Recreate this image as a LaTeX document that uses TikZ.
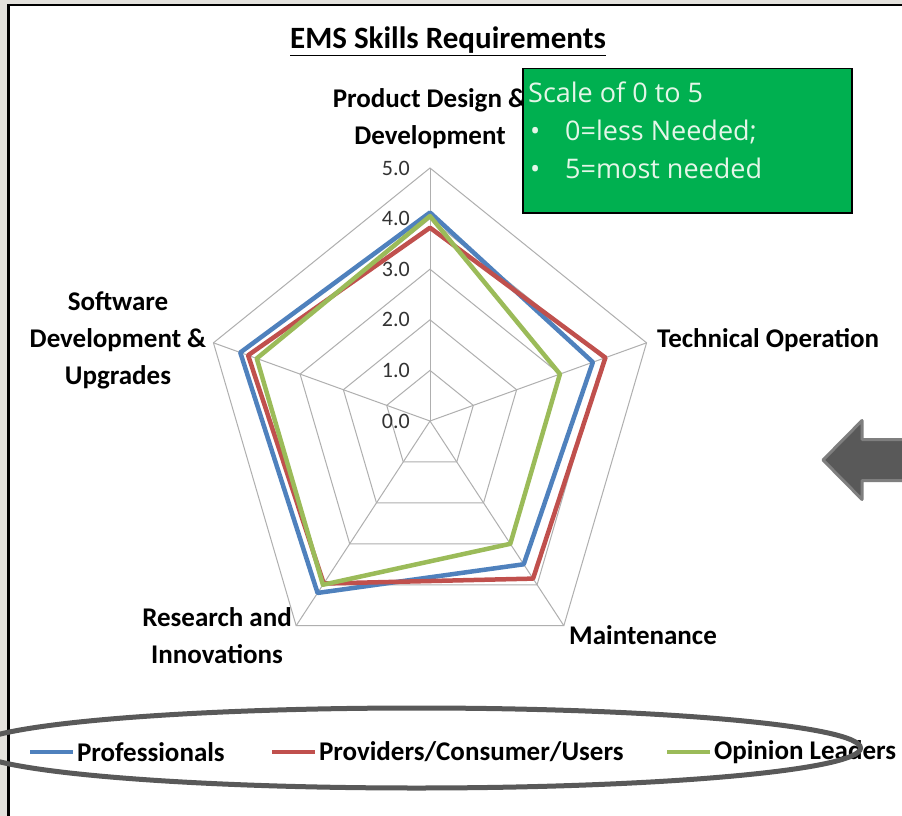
\documentclass[tikz,border=0pt]{standalone}
\usepackage{fontspec}
\setmainfont{Carlito}
\newfontfamily\boxfont{Open Sans}

\definecolor{profblue}{RGB}{79,129,189}
\definecolor{provred}{RGB}{192,80,77}
\definecolor{opingreen}{RGB}{155,187,89}
\definecolor{scalegreen}{RGB}{0,176,80}
\definecolor{gridgray}{RGB}{175,175,175}
\definecolor{framegray}{RGB}{227,225,220}
\definecolor{arrowgray}{RGB}{89,89,89}
\definecolor{rimgray}{RGB}{127,127,127}
\definecolor{boxtext}{RGB}{228,246,232}

\tikzset{
    axislabel/.style  = {font=\fontsize{27}{37}\selectfont\bfseries, align=center, inner sep=0pt},
    ticklabel/.style  = {font=\fontsize{22}{26}\selectfont, anchor=east, text=black!80, inner sep=0pt},
    series/.style     = {line width=4.5pt, line join=round},
    gridline/.style   = {gridgray, line width=1pt},
    legendtext/.style = {font=\fontsize{27}{32}\selectfont\bfseries, text=black, anchor=west, inner sep=2pt},
    scaletext/.style  = {font=\boxfont\fontsize{27}{38}\selectfont, text=boxtext, anchor=base west, inner sep=0pt}
}

\begin{document}
\begin{tikzpicture}[
        x = 1pt,
        y = -1pt
    ]
        \useasboundingbox (0,0) rectangle (902,816);
        \fill[framegray] (0,0) rectangle (902,816);
        \draw[line width=2.5pt, fill=white] (8.5,5) rectangle (930,840);

        % title
        \node[font=\fontsize{31}{36}\selectfont\bfseries] (title) at (448,41) {\underline{EMS Skills Requirements}};

        % radar grid and series
        \begin{scope}[shift={(430,421)}, x=45.54pt, y=50.6pt]
            \foreach \r in {1,...,5}
                \draw[gridline] (90:\r)--(18:\r)--(-54:\r)--(-126:\r)--(162:\r)--cycle;
            \foreach \a in {90,18,-54,-126,162}
                \draw[gridline] (0,0)--(\a:5);
            \foreach \v in {0,...,5}
                \node[ticklabel] (tick\v) at (-.44,\v) {\v.0};

            \draw[series, profblue]  (90:4.12)--(18:3.76)--(-54:3.5)--(-126:4.2)--(162:4.38)--cycle;
            \draw[series, provred]   (90:3.82)--(18:4.05)--(-54:3.85)--(-126:3.97)--(162:4.2)--cycle;
            \draw[series, opingreen] (90:4.05)--(18:3.0)--(-54:3.0)--(-126:4.0)--(162:4.0)--cycle;
        \end{scope}

        % axis labels
        \node[axislabel] (design)   at (430,119) {Product Design \&\\Development};
        \node[axislabel, anchor=west] (techop) at (657,340) {Technical Operation};
        \node[axislabel] (maint)    at (643,635) {Maintenance};
        \node[axislabel] (research) at (217,636) {Research and\\Innovations};
        \node[axislabel] (software) at (118,340) {Software\\Development \&\\Upgrades};

        % scale note
        \node[draw=black, line width=1.5pt, fill=scalegreen, anchor=north west,
              minimum width=329pt, minimum height=144pt] (scale) at (522,68) {};
        \node[scaletext] (scaleA) at (528,102) {Scale of 0 to 5};
        \node[scaletext] (scaleB) at (530,140) {\makebox[35pt][l]{\textbullet}0=less Needed;};
        \node[scaletext] (scaleC) at (530,178) {\makebox[35pt][l]{\textbullet}5=most needed};

        % block arrow
        \draw[fill=arrowgray, draw=rimgray, line width=3pt, line join=round]
            (823,460)--(862,420.5)--(862,439.5)--(915,439.5)--(915,480.5)--(862,480.5)--(862,499.5)--cycle;

        % legend
        \draw[profblue, line width=4pt]  (30,752)--++(43,0)  node[legendtext] (legprof) {Professionals};
        \draw[provred, line width=4pt]   (272,752)--++(43,0) node[legendtext] (legprov) {Providers/Consumer/Users};
        \draw[opingreen, line width=4pt] (667,752)--++(43,0) node[legendtext] (legopin) {Opinion Leaders};
        \draw[arrowgray, line width=5pt] (416.5,748) ellipse [x radius=444pt, y radius=40pt];
    \end{tikzpicture}
\end{document}
